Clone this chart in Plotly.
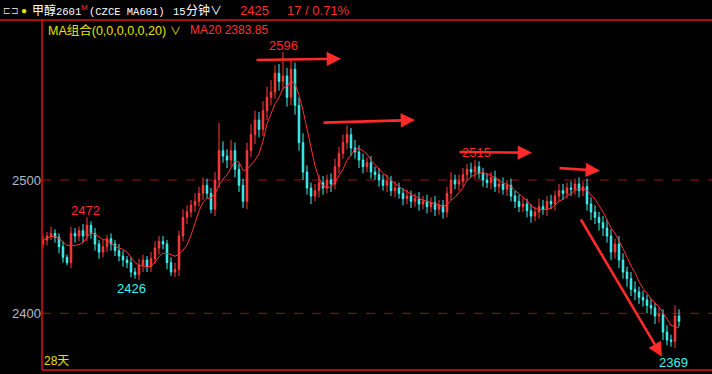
import plotly.graph_objects as go
import pandas as pd

# ---- data (15-minute bars) ----
closes = [
    2455, 2458, 2460, 2457, 2450, 2442, 2438, 2460, 2458, 2462,
    2458, 2466, 2460, 2452, 2446, 2450, 2456, 2452, 2447, 2443,
    2440, 2438, 2431, 2429, 2436, 2440, 2435, 2441, 2449, 2454,
    2452, 2438, 2431, 2433, 2458, 2472, 2476, 2481, 2484, 2490,
    2496, 2490, 2478, 2500, 2522, 2518, 2515, 2522, 2508, 2496,
    2484, 2522, 2534, 2545, 2538, 2552, 2562, 2566, 2580, 2574,
    2578, 2562, 2583, 2556, 2528, 2506, 2494, 2488, 2492, 2498,
    2494, 2500, 2497, 2510, 2520, 2528, 2534, 2524, 2521, 2515,
    2510, 2513, 2506, 2504, 2500, 2496, 2499, 2492, 2494, 2490,
    2486, 2488, 2484, 2486, 2482, 2484, 2480, 2483, 2478, 2481,
    2476, 2490, 2500, 2497, 2499, 2504, 2508, 2506, 2510, 2505,
    2500, 2498, 2502, 2495, 2497, 2493, 2496, 2488, 2484, 2480,
    2482, 2477, 2473, 2476, 2480, 2478, 2484, 2482, 2488, 2492,
    2490, 2494, 2493, 2497, 2492, 2495, 2482, 2476, 2472, 2468,
    2464, 2458, 2446, 2452, 2440, 2431, 2426, 2418, 2416, 2412,
    2410, 2406, 2404, 2398, 2399, 2386, 2380, 2379, 2398, 2394,
]
first_open = 2452
wick_up = [
    4, 3, 5, 3, 3, 4, 2, 5, 4, 3,
    5, 6, 3, 4, 3, 5, 3, 4, 3, 5,
    4, 3, 4, 3, 5, 4, 3, 5, 5, 4,
    4, 3, 4, 5, 4, 6, 5, 4, 6, 5,
    6, 5, 4, 6, 21, 7, 5, 8, 6, 4,
    5, 6, 8, 7, 6, 7, 8, 9, 6, 7,
    18, 6, 7, 5, 6, 7, 5, 4, 5, 6,
    5, 4, 5, 6, 5, 6, 7, 5, 6, 5,
    5, 4, 5, 4, 5, 4, 5, 4, 5, 4,
    4, 5, 4, 4, 5, 4, 5, 4, 5, 4,
    4, 5, 6, 4, 5, 5, 4, 5, 5, 4,
    4, 5, 4, 5, 4, 5, 4, 5, 4, 5,
    5, 4, 5, 4, 6, 5, 4, 5, 4, 5,
    5, 4, 5, 4, 5, 4, 6, 5, 5, 4,
    5, 6, 5, 4, 6, 5, 4, 5, 6, 4,
    5, 4, 5, 4, 5, 4, 5, 4, 8, 5,
]
wick_dn = [
    3, 4, 3, 4, 5, 4, 2, 4, 5, 4,
    5, 4, 4, 5, 5, 4, 4, 5, 4, 4,
    5, 4, 4, 3, 4, 5, 4, 4, 4, 5,
    4, 5, 3, 4, 5, 4, 5, 4, 5, 4,
    5, 4, 3, 5, 6, 5, 6, 5, 6, 5,
    5, 6, 5, 7, 6, 5, 7, 6, 5, 7,
    6, 7, 6, 7, 6, 6, 5, 6, 4, 5,
    5, 4, 6, 4, 5, 4, 5, 6, 5, 6,
    5, 4, 5, 4, 5, 4, 5, 4, 5, 4,
    5, 4, 5, 4, 5, 4, 5, 4, 5, 4,
    5, 4, 5, 4, 5, 4, 5, 4, 5, 4,
    5, 4, 5, 4, 5, 4, 5, 4, 5, 4,
    4, 5, 5, 4, 5, 4, 5, 4, 5, 4,
    5, 4, 5, 4, 5, 4, 5, 6, 5, 6,
    6, 5, 6, 5, 6, 5, 6, 5, 6, 5,
    5, 6, 5, 6, 5, 6, 4, 4, 5, 4,
]
y_ticks = [2400, 2500]
peak_labels = ["2472", "2426", "2596", "2515", "2369"]
ma_window = 6  # smoothing (in these coarser bars) that matches the drawn MA20 curve

# ---- build OHLC ----
opens = [first_open] + closes[:-1]
highs = [max(o, c) + u for o, c, u in zip(opens, closes, wick_up)]
lows = [min(o, c) - d for o, c, d in zip(opens, closes, wick_dn)]
idx = list(range(len(closes)))
ma_line = pd.Series(closes).rolling(ma_window, min_periods=1).mean()

W, H = 712, 374
L, T, B = 42, 20, 4
PW, PH = W - L, H - T - B


def px(x):
    return (x - L) / PW


def py(y):
    return (H - B - y) / PH


UP = "#FF3B3B"
DN = "#3FF2F2"
RED = "#FF2A2A"
FONT = "Liberation Sans, Noto Sans CJK SC, sans-serif"
MONO = "Liberation Mono, Noto Sans CJK SC, monospace"

fig = go.Figure()
fig.add_trace(go.Candlestick(
    x=idx, open=opens, high=highs, low=lows, close=closes,
    increasing=dict(line=dict(color=UP, width=1), fillcolor=UP),
    decreasing=dict(line=dict(color=DN, width=1), fillcolor=DN),
    whiskerwidth=0, showlegend=False, hoverinfo="skip",
))
fig.add_trace(go.Scatter(
    x=idx, y=ma_line, mode="lines", line=dict(color="#FF3030", width=1),
    showlegend=False, hoverinfo="skip",
))

# arrows (tail -> head), in data coords
arrows = [
    (53, 2590, 74.5, 2591),
    (69.75, 2543, 93, 2545),
    (103.75, 2521, 122.25, 2520.5),
    (128.75, 2509, 139.25, 2507),
    (134.25, 2471.5, 154.75, 2367.5),
]
anns = []
for ax_, ay_, x_, y_ in arrows:
    anns.append(dict(
        x=x_, y=y_, ax=ax_, ay=ay_, xref="x", yref="y", axref="x", ayref="y",
        showarrow=True, arrowhead=2, arrowsize=1.1, arrowwidth=2.6,
        arrowcolor=RED, text="", standoff=0, startstandoff=0,
    ))

label_pos = [(10.5, 2477, RED), (22, 2419, DN), (60, 2601, RED),
             (108.25, 2520.5, RED), (157.5, 2363.5, DN)]
for (lx, ly, col), txt in zip(label_pos, peak_labels):
    anns.append(dict(x=lx, y=ly, xref="x", yref="y", text=txt, showarrow=False,
                     font=dict(family=FONT, size=13, color=col),
                     xanchor="center", yanchor="middle"))

# header texts (pixel positions)
hdr = [
    (1, 11, "⊏⊐", "#D0D0D0", 9, FONT),
    (19, 11, "●", "#E8E000", 10, FONT),
    (30, 11, "甲醇", "#FFFFFF", 12, FONT),
    (54, 12, "2601", "#FFFFFF", 10.5, MONO),
    (79, 7, "M", "#FF3030", 8, FONT),
    (87, 12, "(CZCE MA601)", "#FFFFFF", 10.5, MONO),
    (171, 12, "15", "#FFFFFF", 10.5, MONO),
    (184, 11, "分钟", "#FFFFFF", 12, FONT),
    (208, 11, "∨", "#FFFFFF", 12, FONT),
    (238, 11, "2425", RED, 13, FONT),
    (285, 11, "17 / 0.71%", RED, 13, FONT),
    (46, 30, "MA组合(0,0,0,0,0,20)", "#E8E000", 12.5, FONT),
    (168, 31, "∨", "#E8E000", 11, FONT),
    (188, 30, "MA20 2383.85", "#FF3030", 12, FONT),
    (42, 361, "28天", "#E8E000", 12, FONT),
]
for x_, y_, t, c, s, f in hdr:
    anns.append(dict(x=px(x_), y=py(y_), xref="paper", yref="paper", text=t,
                     showarrow=False, xanchor="left", yanchor="middle",
                     font=dict(family=f, size=s, color=c)))

shapes = [
    dict(type="line", xref="paper", yref="paper", x0=px(0), x1=1, y0=py(20), y1=py(20),
         line=dict(color="#E01010", width=1.5)),
    dict(type="line", xref="paper", yref="paper", x0=px(42), x1=px(42), y0=py(20), y1=py(370),
         line=dict(color="#E01010", width=1.5)),
    dict(type="line", xref="paper", yref="paper", x0=px(42), x1=1, y0=py(370), y1=py(370),
         line=dict(color="#E01010", width=1.5)),
]
for v in y_ticks:
    shapes.append(dict(type="line", xref="paper", yref="y", x0=0, x1=1, y0=v, y1=v,
                       line=dict(color="#9A1414", width=1, dash="dash"), layer="below"))

ymin = 2500 - (370 - 180) / 1.3333
ymax = 2500 + (180 - 20) / 1.3333
fig.update_layout(
    width=W, height=H, margin=dict(l=L, r=0, t=T, b=B),
    paper_bgcolor="#000000", plot_bgcolor="#000000",
    boxgap=0.45,
    xaxis=dict(range=[-0.25, (712 - 43) / 4], showgrid=False, zeroline=False,
               showticklabels=False, rangeslider=dict(visible=False), fixedrange=True),
    yaxis=dict(range=[ymin, ymax], tickvals=y_ticks, ticktext=[str(v) for v in y_ticks],
               showgrid=False, zeroline=False, ticks="",
               tickfont=dict(family=FONT, size=13, color="#B4BCC8")),
    annotations=anns, shapes=shapes, showlegend=False,
)
fig.write_html("out.html")
